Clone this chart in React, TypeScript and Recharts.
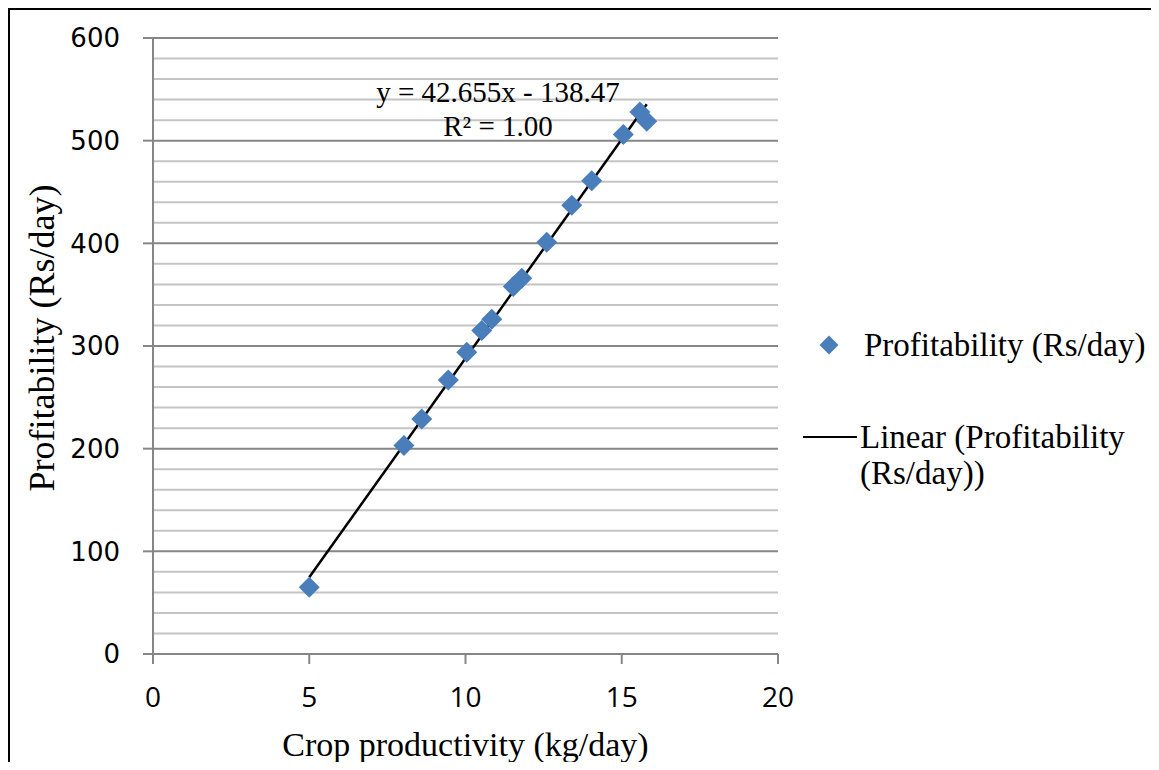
import React from 'react';
import {
  ScatterChart,
  Scatter,
  XAxis,
  YAxis,
  CartesianGrid,
  Legend,
  Customized,
} from 'recharts';

// crop productivity (kg/day) vs profitability (Rs/day)
const productivity = [5.0, 8.03, 8.6, 9.45, 10.04, 10.52, 10.84, 11.53, 11.8, 12.6, 13.4, 14.04, 15.05, 15.58, 15.8];
const profitability = [65, 203, 229, 267, 294, 315, 326, 358, 366, 401, 437, 461, 506, 528, 519];

// trendline as printed on the chart
const slope = 42.655;
const intercept = -138.47;
const trendRange = [5.0, 15.8];

const xTicks = [0, 5, 10, 15, 20];
const yTicks = [0, 100, 200, 300, 400, 500, 600];
const minorY = [20, 40, 60, 80, 120, 140, 160, 180, 220, 240, 260, 280, 320, 340, 360, 380, 420, 440, 460, 480, 520, 540, 560, 580];

const points = productivity.map((x, i) => ({ x, y: profitability[i] }));
const trend = trendRange.map((x) => ({ x, y: slope * x + intercept }));

const BLUE = '#4a7ebb';
const AXIS = '#868686';
const SERIF = '"Liberation Serif", "Times New Roman", serif';

const Diamond = (props: any) => {
  const { cx, cy } = props;
  const r = 10.5;
  return <polygon points={`${cx},${cy - r} ${cx + r},${cy} ${cx},${cy + r} ${cx - r},${cy}`} fill={BLUE} />;
};

const Hidden = () => <g />;

const YTitle = () => {
  const cx = 32;
  const cy = 328;
  return (
    <text
      x={cx}
      y={cy}
      transform={`rotate(-90 ${cx} ${cy})`}
      textAnchor="middle"
      dominantBaseline="central"
      fontFamily={SERIF}
      fontSize={36}
      fill="#000"
    >
      Profitability (Rs/day)
    </text>
  );
};

const Equation = () => (
  <g fontFamily={SERIF} fontSize={29} fill="#000" textAnchor="middle">
    <text x={488} y={92}>y = 42.655x - 138.47</text>
    <text x={488} y={126}>R² = 1.00</text>
  </g>
);

const LegendBox = () => (
  <div style={{ position: 'relative', height: 180, fontFamily: SERIF, fontSize: 33, lineHeight: '36px', color: '#000', whiteSpace: 'nowrap' }}>
    <svg width={22} height={22} style={{ position: 'absolute', left: 15, top: 14 }}>
      <polygon points="11,1.5 20.5,11 11,20.5 1.5,11" fill={BLUE} />
    </svg>
    <div style={{ position: 'absolute', left: 61, top: 7 }}>Profitability (Rs/day)</div>
    <div style={{ position: 'absolute', left: 0, top: 116, width: 54, height: 2, background: '#000' }} />
    <div style={{ position: 'absolute', left: 57, top: 99 }}>
      Linear (Profitability
      <br />
      (Rs/day))
    </div>
  </div>
);

export default function App() {
  return (
    <div
      style={{
        boxSizing: 'border-box',
        width: 1151,
        height: 762,
        marginBottom: -8,
        borderLeft: '2px solid #000',
        borderTop: '2px solid #000',
        overflow: 'hidden',
      }}
    >
      <ScatterChart width={1149} height={760} margin={{ top: 28, right: 381, bottom: 36, left: 0 }}>
        <CartesianGrid vertical={false} horizontalValues={minorY} stroke="#c4c4c4" strokeWidth={2} />
        <CartesianGrid vertical={false} horizontalValues={yTicks} stroke={AXIS} strokeWidth={2} />
        <XAxis
          type="number"
          dataKey="x"
          domain={[0, 20]}
          ticks={xTicks}
          interval={0}
          height={80}
          axisLine={{ stroke: AXIS, strokeWidth: 2 }}
          tickLine={{ stroke: AXIS, strokeWidth: 2 }}
          tickSize={10}
          tickMargin={23}
          tick={{ fill: '#000', fontSize: 28, fontFamily: '"Open Sans", sans-serif' }}
          label={{ value: 'Crop productivity (kg/day)', position: 'bottom', offset: -2, fill: '#000', fontSize: 34, fontFamily: SERIF }}
        />
        <YAxis
          type="number"
          dataKey="y"
          domain={[0, 600]}
          ticks={yTicks}
          interval={0}
          width={143}
          axisLine={{ stroke: AXIS, strokeWidth: 2 }}
          tickLine={{ stroke: AXIS, strokeWidth: 2 }}
          tickSize={10}
          tickMargin={23}
          tick={{ fill: '#000', fontSize: 26, fontFamily: '"DejaVu Sans", sans-serif' }}
          label={<YTitle />}
        />
        <Scatter
          name="Linear (Profitability (Rs/day))"
          data={trend}
          line={{ stroke: '#000', strokeWidth: 2.5 }}
          shape={<Hidden />}
          isAnimationActive={false}
        />
        <Scatter name="Profitability (Rs/day)" data={points} shape={<Diamond />} isAnimationActive={false} />
        <Customized component={<Equation />} />
        <Legend
          layout="vertical"
          align="center"
          verticalAlign="middle"
          wrapperStyle={{ left: 793, top: 310, width: 356 }}
          content={() => <LegendBox />}
        />
      </ScatterChart>
    </div>
  );
}
